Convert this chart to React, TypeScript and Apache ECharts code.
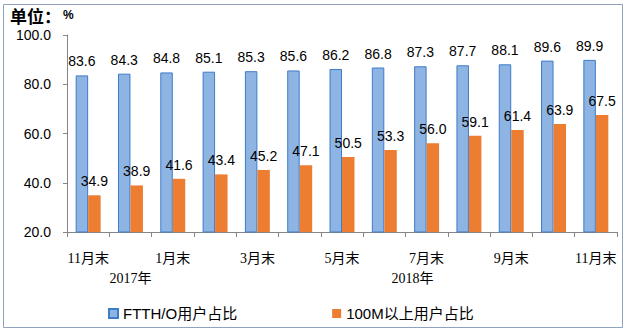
import React, { useEffect, useRef } from "react";
import * as echarts from "echarts";

const categories = ["11月末", "12月末", "1月末", "2月末", "3月末", "4月末", "5月末", "6月末", "7月末", "8月末", "9月末", "10月末", "11月末"];
const yearLabels = ["", "2017年", "", "", "", "", "", "", "2018年", "", "", "", ""];
const ftthValues = [83.6, 84.3, 84.8, 85.1, 85.3, 85.6, 86.2, 86.8, 87.3, 87.7, 88.1, 89.6, 89.9];
const m100Values = [34.9, 38.9, 41.6, 43.4, 45.2, 47.1, 50.5, 53.3, 56.0, 59.1, 61.4, 63.9, 67.5];
const seriesNames = ["FTTH/O用户占比", "100M以上用户占比"];

const FONT = "'Liberation Sans', Arial, 'Noto Sans CJK SC', sans-serif";
const SERIF = "'Liberation Serif', 'Noto Sans CJK SC', serif";

export default function App() {
  const ref = useRef<HTMLDivElement>(null);
  useEffect(() => {
    if (!ref.current) return;
    const chart = echarts.init(ref.current, undefined, { renderer: "svg" });
    chart.setOption({
      animation: false,
      backgroundColor: "#ffffff",
      title: {
        left: 10,
        top: 6,
        padding: 0,
        text: "{a|单位：}{b|%}",
        textStyle: {
          rich: {
            a: { fontSize: 17, lineHeight: 18, fontWeight: "bold", color: "#000", fontFamily: "'Noto Sans CJK SC', sans-serif" },
            b: { fontSize: 12, lineHeight: 18, fontWeight: "bold", color: "#000", fontFamily: FONT, padding: [0, 0, 0, 2] },
          },
        },
      },
      graphic: [
        {
          type: "rect",
          shape: { x: 3.5, y: 4.5, width: 619, height: 323 },
          style: { fill: "none", stroke: "#8fa3be", lineWidth: 1 },
          silent: true,
        },
      ],
      legend: {
        left: 103,
        top: 301,
        itemWidth: 9,
        itemHeight: 9,
        itemGap: 95,
        icon: "rect",
        textStyle: { fontSize: 15, color: "#000", fontFamily: FONT },
        data: seriesNames,
      },
      grid: { left: 67, right: 10, top: 35, bottom: 101, containLabel: false },
      xAxis: [
        {
          type: "category",
          data: categories,
          axisLine: { lineStyle: { color: "#868686" } },
          axisTick: { show: true, interval: 0, length: 5, lineStyle: { color: "#868686" } },
          axisLabel: { interval: 1, fontSize: 14, color: "#000", margin: 19, fontFamily: SERIF },
        },
        {
          type: "category",
          data: categories,
          position: "bottom",
          axisLine: { show: false },
          axisTick: { show: false },
          axisLabel: {
            interval: 0,
            margin: 39,
            formatter: (_v: string, i: number) => (yearLabels[i] ? (i === 8 ? "{s|" + yearLabels[i] + "}" : yearLabels[i]) : ""),
            fontSize: 14,
            color: "#000",
            fontFamily: SERIF,
            rich: { s: { fontSize: 14, color: "#000", fontFamily: SERIF, padding: [0, 28, 0, 0] } },
          },
        },
      ],
      yAxis: {
        type: "value",
        min: 20,
        max: 100,
        interval: 20,
        axisLine: { show: true, lineStyle: { color: "#868686" } },
        axisTick: { show: true, length: 4, lineStyle: { color: "#868686" } },
        splitLine: { show: false },
        axisLabel: {
          fontSize: 14,
          color: "#000",
          margin: 16,
          fontFamily: FONT,
          formatter: (v: number) => v.toFixed(1),
        },
      },
      series: [
        {
          name: seriesNames[0],
          type: "bar",
          data: ftthValues,
          barGap: "0%",
          barCategoryGap: "41%",
          itemStyle: { color: "#8db4e2", borderColor: "#3d7cc9", borderWidth: 1 },
          label: {
            show: true,
            position: "top",
            distance: 7,
            fontSize: 14,
            color: "#000",
            fontFamily: FONT,
            formatter: (p: any) => Number(p.value).toFixed(1),
          },
        },
        {
          name: seriesNames[1],
          type: "bar",
          data: m100Values,
          barGap: "0%",
          barCategoryGap: "41%",
          itemStyle: { color: "#ed7d31" },
          label: {
            show: true,
            position: "top",
            distance: 7,
            fontSize: 14,
            color: "#000",
            fontFamily: FONT,
            formatter: (p: any) => Number(p.value).toFixed(1),
          },
        },
      ],
    });
    return () => chart.dispose();
  }, []);
  return <div ref={ref} style={{ position: "absolute", left: 0, top: 0, width: 627, height: 333 }} />;
}
